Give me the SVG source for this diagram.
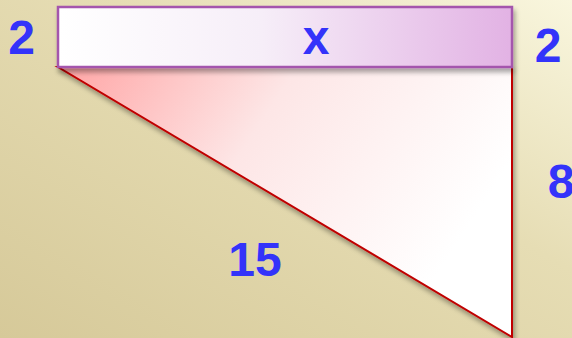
<svg xmlns="http://www.w3.org/2000/svg" width="572" height="338" viewBox="0 0 572 338">
<defs>
<linearGradient id="bg" x1="0" y1="1" x2="1" y2="0">
<stop offset="0" stop-color="#d6c999"/>
<stop offset="0.6" stop-color="#e6ddb4"/>
<stop offset="1" stop-color="#f9f6de"/>
</linearGradient>
<linearGradient id="rg" x1="0" y1="0" x2="1" y2="0">
<stop offset="0" stop-color="#ffffff"/>
<stop offset="0.45" stop-color="#f6eef8"/>
<stop offset="1" stop-color="#e2b2e4"/>
</linearGradient>
<linearGradient id="tg" gradientUnits="userSpaceOnUse" x1="70" y1="70" x2="420" y2="300">
<stop offset="0" stop-color="#ffa8a8"/>
<stop offset="0.45" stop-color="#fde6e6"/>
<stop offset="1" stop-color="#ffffff"/>
</linearGradient>
<filter id="sh" x="-10%" y="-10%" width="125%" height="130%">
<feGaussianBlur in="SourceAlpha" stdDeviation="2.5"/>
<feOffset dx="2" dy="4"/>
<feComponentTransfer><feFuncA type="linear" slope="0.35"/></feComponentTransfer>
<feMerge><feMergeNode/><feMergeNode in="SourceGraphic"/></feMerge>
</filter>
</defs>
<style>
.lbl{font-family:"Liberation Sans",Arial,sans-serif;font-weight:bold;font-size:48px;fill:#3333fa;text-anchor:middle}
</style>
<rect width="572" height="338" fill="url(#bg)"/>
<g id="triangle" filter="url(#sh)">
<polygon points="58,67 512,67 512,337" fill="url(#tg)" stroke="#c00000" stroke-width="2" stroke-linejoin="miter"/>
</g>
<g id="rectangle" filter="url(#sh)">
<rect x="58" y="7" width="454" height="60" fill="url(#rg)" stroke="#a455ad" stroke-width="2.5"/>
</g>
<g id="labels">
<text class="lbl" x="21.5" y="54">2</text>
<text class="lbl" x="316" y="54">x</text>
<text class="lbl" x="548" y="62">2</text>
<text class="lbl" x="561" y="198">8</text>
<text class="lbl" x="255" y="276">15</text>
</g>
</svg>
